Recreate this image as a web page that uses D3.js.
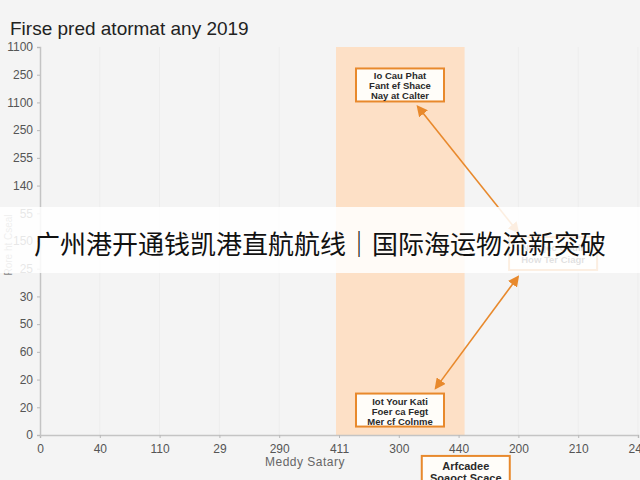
<!DOCTYPE html>
<html>
<head>
<meta charset="utf-8">
<script src="https://cdn.jsdelivr.net/npm/d3@7"></script>
<style>
  html, body { margin: 0; padding: 0; background: #f4f4f4; }
  svg { display: block; font-family: "Liberation Sans", Arial, sans-serif; }
</style>
</head>
<body>
<div id="chart"></div>
<script>
// Chart data
const chartTitle = 'Firse pred atormat any 2019';
const xTitle = 'Meddy Satary';
const yTitle = 'Rore ht Cseal';
const xTickLabels = ['0', '40', '110', '29', '290', '411', '300', '440', '200', '210', '240'];
const yTickLabels = ['0', '20', '20', '60', '50', '30', '25', '150', '55', '140', '255', '250', '1100', '250', '1100'];
const bannerText = '广州港开通钱凯港直航航线｜国际海运物流新突破';

// shaded span, in tick-index units
const bandSpan = [4.95, 7.1];

// annotation notes: [x index, y index], lines of text
const notes = [
  { at: [6.02, 12.63], lines: ['Io Cau Phat', 'Fant ef Shace', 'Nay at Calter'] },
  { at: [8.58, 6.55], lines: ['Nérdjec Coulr', 'How Ter Ciagr'] },
  { at: [6.02, 0.9], lines: ['Iot Your Kati', 'Foer ca Fegt', 'Mer cf Colnme'] },
  { at: [7.12, -1.35], lines: ['Arfcadee', 'Soaoct Scace'] },
];

// double-headed arrows between notes: [from, to] in index units
const arrows = [
  [[6.32, 11.84], [7.99, 7.33]],
  [[7.99, 5.70], [6.62, 1.70]],
];

const width = 640, height = 480;
const orange = '#e8892c';

const svg = d3.select('#chart').append('svg')
  .attr('width', width)
  .attr('height', height);

svg.append('rect')
  .attr('width', width).attr('height', height)
  .attr('fill', '#f4f4f4');

const x = d3.scaleLinear()
  .domain([0, xTickLabels.length - 1])
  .range([40, 638]);

const y = d3.scaleLinear()
  .domain([0, yTickLabels.length - 1])
  .range([435, 47]);

// faint vertical grid
svg.append('g')
  .selectAll('line')
  .data(d3.range(1, xTickLabels.length))
  .join('line')
    .attr('x1', (d) => x(d)).attr('x2', (d) => x(d))
    .attr('y1', y(yTickLabels.length - 1)).attr('y2', y(0))
    .attr('stroke', '#ededed')
    .attr('stroke-width', 1)

// shaded band
svg.append('rect')
  .attr('x', x(bandSpan[0]))
  .attr('y', y(yTickLabels.length - 1))
  .attr('width', x(bandSpan[1]) - x(bandSpan[0]))
  .attr('height', y(0) - y(yTickLabels.length - 1))
  .attr('fill', '#fde0c6')

// Axes
const xAxis = d3.axisBottom(x)
  .tickValues(d3.range(xTickLabels.length))
  .tickFormat((i) => xTickLabels[i])
  .tickSize(3)
  .tickPadding(6);

const yAxis = d3.axisLeft(y)
  .tickValues(d3.range(yTickLabels.length))
  .tickFormat((i) => yTickLabels[i])
  .tickSize(3)
  .tickPadding(4);

const gx = svg.append('g')
  .attr('transform', `translate(0,${y(0)})`)
  .call(xAxis);

const gy = svg.append('g')
  .attr('transform', `translate(${x(0)},0)`)
  .call(yAxis);

[gx, gy].forEach((g) => {
  g.select('.domain').attr('stroke', '#c4c4c4').attr('stroke-width', 1.5);
  g.selectAll('.tick line').attr('stroke', '#b8b8b8');
  g.selectAll('.tick text')
    .attr('fill', '#555')
    .style('font-size', '12px')
    .style('font-family', '"Liberation Sans", Arial, sans-serif');
});

// Titles
svg.append('text')
  .attr('x', 10).attr('y', 35)
  .attr('fill', '#222')
  .style('font-size', '19px')
  .text(chartTitle)

svg.append('text')
  .attr('x', 305).attr('y', 466)
  .attr('text-anchor', 'middle')
  .attr('fill', '#666')
  .style('font-size', '12px')
  .style('letter-spacing', '0.5px')
  .text(xTitle)

svg.append('text')
  .attr('transform', 'translate(12,245) rotate(-90)')
  .attr('text-anchor', 'middle')
  .attr('fill', '#888')
  .style('font-size', '10px')
  .text(yTitle)

// Arrows
const defs = svg.append('defs');
defs.append('marker')
  .attr('id', 'head')
  .attr('viewBox', '0 0 10 10')
  .attr('refX', 8).attr('refY', 5)
  .attr('markerWidth', 7).attr('markerHeight', 7)
  .attr('orient', 'auto-start-reverse')
  .append('path')
    .attr('d', 'M0,0 L10,5 L0,10 z')
    .attr('fill', orange)

svg.append('g')
  .selectAll('line')
  .data(arrows)
  .join('line')
    .attr('x1', (d) => x(d[0][0])).attr('y1', (d) => y(d[0][1]))
    .attr('x2', (d) => x(d[1][0])).attr('y2', (d) => y(d[1][1]))
    .attr('stroke', orange)
    .attr('stroke-width', 1.6)
    .attr('marker-start', 'url(#head)')
    .attr('marker-end', 'url(#head)')

// Note boxes
const boxW = 88, boxH = 33;
const noteG = svg.append('g')
  .selectAll('g')
  .data(notes)
  .join('g')
    .attr('transform', (d) => `translate(${x(d.at[0])},${y(d.at[1])})`)

noteG.append('rect')
  .attr('x', -boxW / 2).attr('y', -boxH / 2)
  .attr('width', boxW).attr('height', (d, i) => i === 3 ? boxH + 8 : boxH)
  .attr('fill', '#fffdf9')
  .attr('stroke', orange)
  .attr('stroke-width', 2)

noteG.each(function (d, i) {
  const big = i === 3;
  const lh = big ? 12 : (d.lines.length === 2 ? 12 : 10);
  const top = big ? 14 : (d.lines.length === 2 ? 14 : 11);
  d3.select(this).selectAll('text')
    .data(d.lines)
    .join('text')
      .attr('text-anchor', 'middle')
      .attr('y', (t, k) => -boxH / 2 + top + k * lh)
      .attr('fill', '#2a2a2a')
      .style('font-weight', 600)
      .style('font-size', big ? '11px' : '9.5px')
      .text((t) => t)
});

// Banner over the chart
svg.append('rect')
  .attr('x', 0).attr('y', 207)
  .attr('width', width).attr('height', 66)
  .attr('fill', '#ffffff')
  .attr('fill-opacity', 0.86)

svg.append('text')
  .attr('x', 320).attr('y', 254)
  .attr('text-anchor', 'middle')
  .attr('fill', '#111')
  .style('font-family', '"Noto Sans CJK SC", sans-serif')
  .style('font-size', '26px')
  .text(bannerText)
</script>
</body>
</html>
